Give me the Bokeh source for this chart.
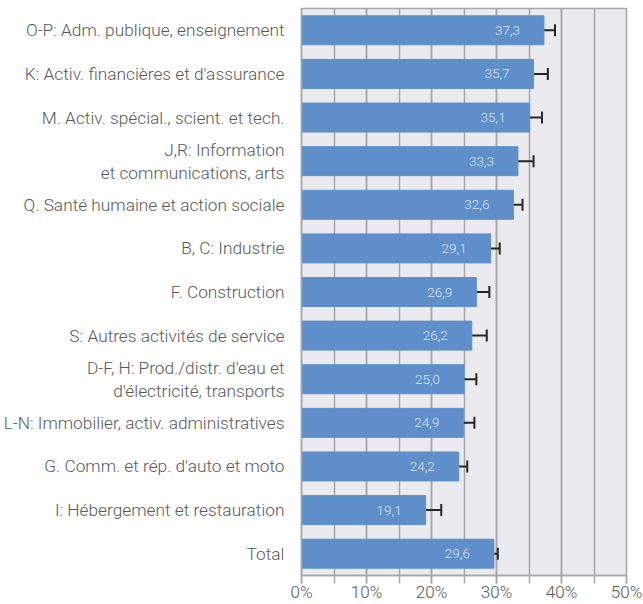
from bokeh.plotting import figure
from bokeh.models import ColumnDataSource, FactorRange, Range1d, FixedTicker, Whisker, TeeHead
from bokeh.core.properties import value
from bokeh.embed import file_html
from bokeh.resources import INLINE

categories = [
    "O-P: Adm. publique, enseignement",
    "K: Activ. financières et d'assurance",
    "M. Activ. spécial., scient. et tech.",
    "J,R: Information\net communications, arts",
    "Q. Santé humaine et action sociale",
    "B, C: Industrie",
    "F. Construction",
    "S: Autres activités de service",
    "D-F, H: Prod./distr. d'eau et\nd'électricité, transports",
    "L-N: Immobilier, activ. administratives",
    "G. Comm. et rép. d'auto et moto",
    "I: Hébergement et restauration",
    "Total",
]
values = [37.3, 35.7, 35.1, 33.3, 32.6, 29.1, 26.9, 26.2, 25.0, 24.9, 24.2, 19.1, 29.6]
err_low = [35.6, 33.5, 33.2, 30.9, 31.3, 27.7, 24.9, 24.0, 23.1, 23.2, 22.8, 16.7, 29.0]
err_high = [39.0, 37.9, 37.0, 35.7, 34.0, 30.5, 28.9, 28.5, 26.9, 26.6, 25.5, 21.5, 30.2]
x_ticks = [0, 10, 20, 30, 40, 50]
x_minor = [0, 5, 10, 15, 20, 25, 30, 35, 40, 45, 50]
tick_labels = {t: f"{t}%" for t in x_ticks}

FONT = "'Roboto Light', Roboto"
GREY = "#595959"

src = ColumnDataSource(dict(
    cat=categories,
    val=values,
    lo=err_low,
    hi=err_high,
    lab=[f"{v:.1f}".replace(".", ",") for v in values],
))

p = figure(
    width=643, height=604,
    y_range=FactorRange(*reversed(categories), range_padding=0.0),
    x_range=Range1d(0, 50),
    output_backend="svg", toolbar_location=None,
    min_border_left=300, min_border_right=17, min_border_top=8, min_border_bottom=29,
)
p.y_range.range_padding = 0
p.background_fill_color = "#EBEBEF"
p.border_fill_color = "white"
p.outline_line_color = "#A6A6A6"
p.outline_line_width = 1.5

p.hbar(y="cat", right="val", left=0, height=0.665, source=src, color="#5F8FCA")

p.add_layout(Whisker(base="cat", lower="lo", upper="hi", dimension="width", source=src,
                     line_color="#262626", line_width=2,
                     upper_head=TeeHead(size=12, line_color="#262626", line_width=2),
                     lower_head=TeeHead(size=12, line_color="#262626", line_width=2)))

p.text(x="val", y="cat", text="lab", source=src, x_offset=-24,
       text_align="right", text_baseline="middle", text_color="#DCE5F2",
       text_font=value(FONT), text_font_size="13.5px")

# x axis
p.xaxis.ticker = FixedTicker(ticks=x_ticks, minor_ticks=x_minor)
p.xaxis.major_label_overrides = tick_labels
p.xaxis.major_label_text_font = FONT
p.xaxis.major_label_text_font_size = "17px"
p.xaxis.major_label_text_color = GREY
p.xaxis.axis_line_color = "#A6A6A6"
p.xaxis.axis_line_width = 1.5
p.xaxis.major_tick_line_color = "#A6A6A6"
p.xaxis.minor_tick_line_color = "#A6A6A6"
p.xaxis.major_tick_line_width = 1.5
p.xaxis.minor_tick_line_width = 1.5
p.xaxis.major_tick_in = 0
p.xaxis.major_tick_out = 8
p.xaxis.minor_tick_in = 0
p.xaxis.minor_tick_out = 8
p.xaxis.major_label_standoff = -2

# y axis
p.yaxis.major_label_text_font = FONT
p.yaxis.major_label_text_font_size = "17.3px"
p.yaxis.major_label_text_color = GREY
p.yaxis.major_label_text_line_height = 1.15
p.yaxis.axis_line_color = "#A6A6A6"
p.yaxis.axis_line_width = 1.5
p.yaxis.major_tick_line_color = None
p.yaxis.minor_tick_line_color = None
p.yaxis.major_tick_out = 0
p.yaxis.major_tick_in = 0
p.yaxis.major_label_standoff = 17

p.xgrid.grid_line_color = "#A6A6A6"
p.xgrid.grid_line_width = 1.5
p.xgrid.minor_grid_line_color = "#A6A6A6"
p.xgrid.minor_grid_line_width = 1.5
p.ygrid.grid_line_color = None

open("out.html", "w").write(file_html(p, INLINE))
